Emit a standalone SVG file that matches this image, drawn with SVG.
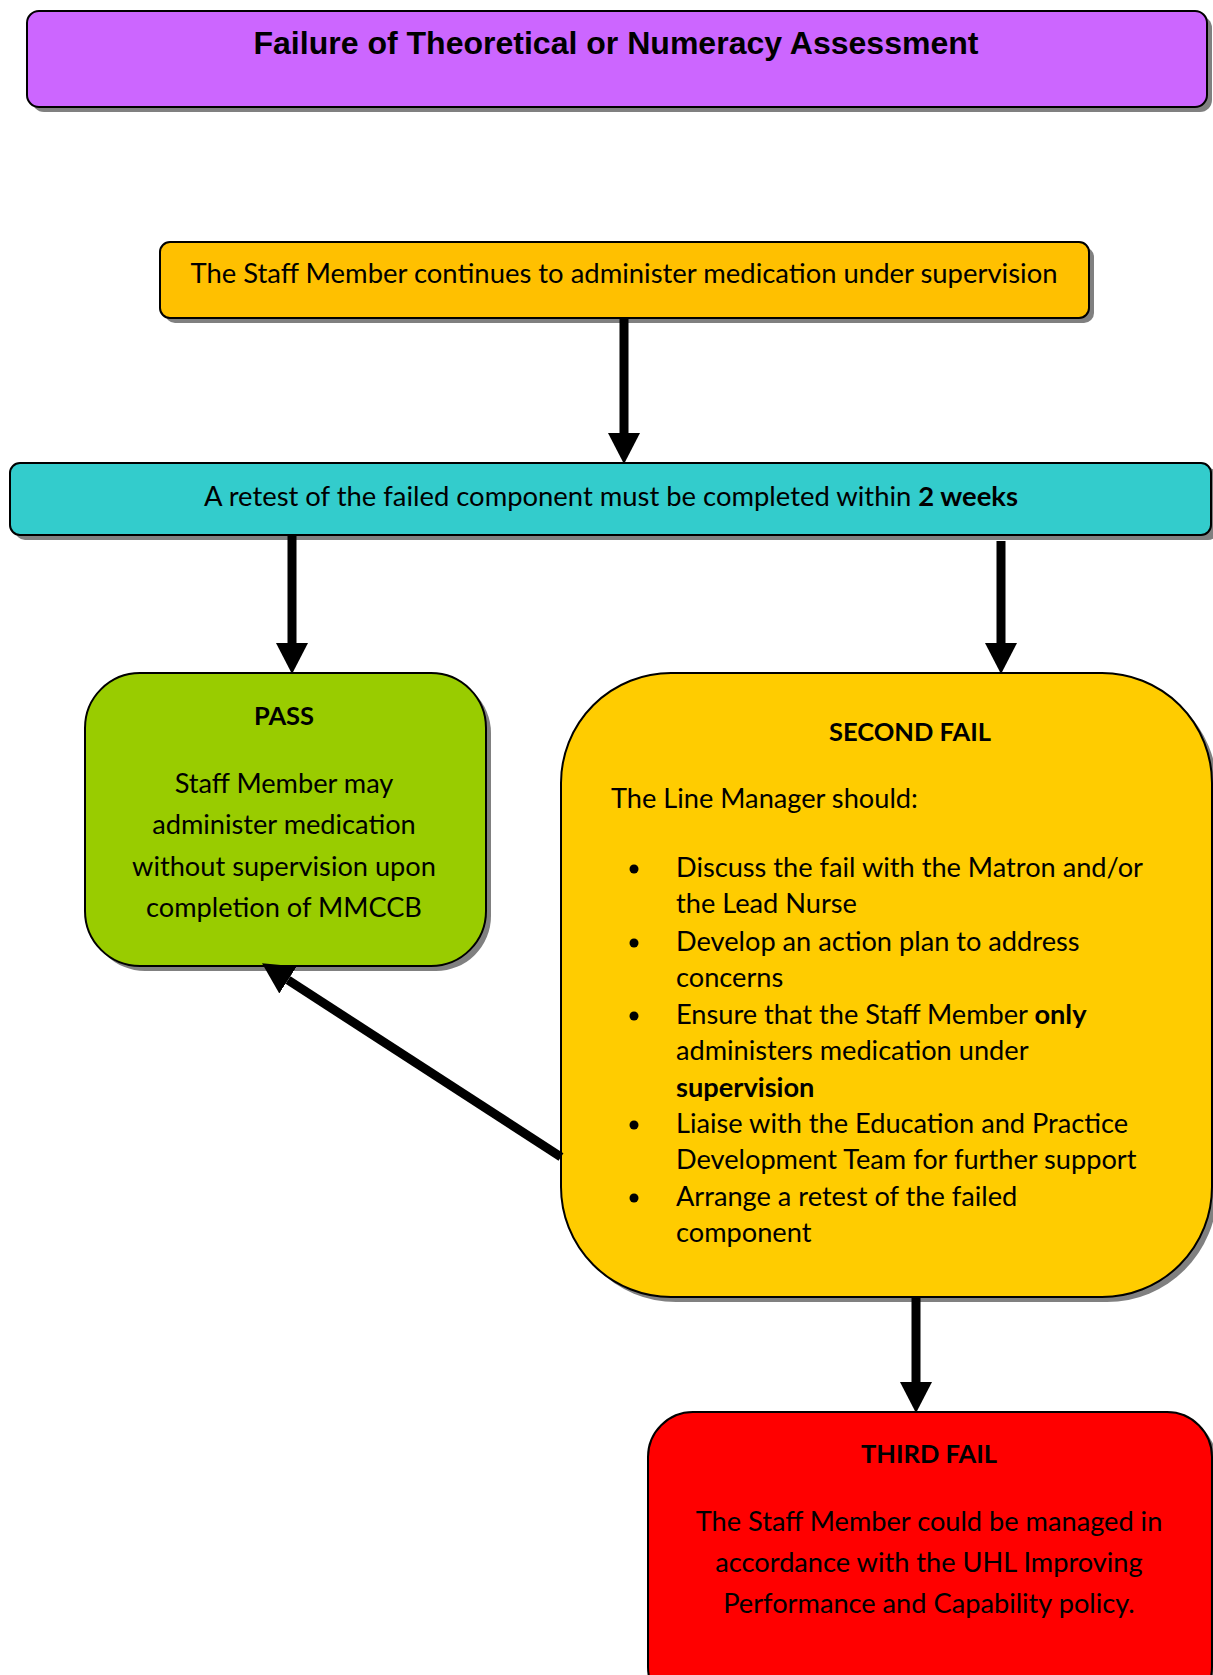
<svg xmlns="http://www.w3.org/2000/svg" width="1213" height="1675" viewBox="0 0 1213 1675">
  <style>
    .shadow { fill: #808080; }
    .box { stroke: #000; stroke-width: 2; }
    .title { font-family: "Liberation Sans", Arial, sans-serif; font-weight: bold; font-size: 31px; fill: #000; }
    .t { font-family: Lato, "Liberation Sans", sans-serif; font-size: 27.2px; fill: #000; }
    .h { font-family: Lato, "Liberation Sans", sans-serif; font-size: 25.5px; font-weight: bold; fill: #000; }
    .b { font-weight: bold; }
    .mid { text-anchor: middle; }
    .conn { stroke: #000; stroke-width: 9; fill: none; }
  </style>
  <defs>
    <marker id="head" markerUnits="userSpaceOnUse" markerWidth="32" markerHeight="34" refX="0" refY="17" orient="auto" viewBox="0 0 32 34">
      <path d="M0,1 L31,17 L0,33 Z" fill="#000"/>
    </marker>
  </defs>

  <rect width="1213" height="1675" fill="#fff"/>

  <!-- Title -->
  <g id="title">
    <rect class="shadow" x="32" y="16" width="1180" height="96" rx="12"/>
    <rect class="box" x="27" y="11" width="1180" height="96" rx="12" fill="#CC66FF"/>
    <text class="title mid" x="616" y="54" textLength="725" lengthAdjust="spacingAndGlyphs">Failure of Theoretical or Numeracy Assessment</text>
  </g>

  <!-- Supervised administration -->
  <g id="supervised">
    <rect class="shadow" x="165" y="247" width="929" height="76" rx="10"/>
    <rect class="box" x="160" y="242" width="929" height="76" rx="10" fill="#FFC000"/>
    <text class="t mid" x="624" y="283" textLength="867" lengthAdjust="spacingAndGlyphs">The Staff Member continues to administer medication under supervision</text>
  </g>

  <!-- Retest -->
  <g id="retest">
    <rect class="shadow" x="15" y="468" width="1203" height="72" rx="10"/>
    <rect class="box" x="10" y="463" width="1201" height="72" rx="10" fill="#33CCCC"/>
    <text class="t mid" x="611" y="506" textLength="814" lengthAdjust="spacingAndGlyphs">A retest of the failed component must be completed within <tspan class="b">2 weeks</tspan></text>
  </g>

  <!-- Pass -->
  <g id="pass">
    <rect class="shadow" x="90" y="678" width="401" height="293" rx="55"/>
    <rect class="box" x="85" y="673" width="401" height="293" rx="55" fill="#99CC00"/>
    <text class="h mid" x="284" y="725">PASS</text>
    <text class="t mid" x="284" y="793">Staff Member may</text>
    <text class="t mid" x="284" y="834">administer medication</text>
    <text class="t mid" x="284" y="876">without supervision upon</text>
    <text class="t mid" x="284" y="917">completion of MMCCB</text>
  </g>

  <!-- Second fail -->
  <g id="second-fail">
    <rect class="shadow" x="566" y="678" width="651" height="624" rx="110"/>
    <rect class="box" x="561" y="673" width="651" height="624" rx="110" fill="#FFCC00"/>
    <text class="h mid" x="910" y="741">SECOND FAIL</text>
    <text class="t" x="611" y="808">The Line Manager should:</text>
    <g fill="#000">
      <circle cx="634" cy="869" r="4.5"/>
      <circle cx="634" cy="943" r="4.5"/>
      <circle cx="634" cy="1016" r="4.5"/>
      <circle cx="634" cy="1125" r="4.5"/>
      <circle cx="634" cy="1198" r="4.5"/>
    </g>
    <text class="t" x="676" y="877">Discuss the fail with the Matron and/or</text>
    <text class="t" x="676" y="913">the Lead Nurse</text>
    <text class="t" x="676" y="951">Develop an action plan to address</text>
    <text class="t" x="676" y="987">concerns</text>
    <text class="t" x="676" y="1024">Ensure that the Staff Member <tspan class="b">only</tspan></text>
    <text class="t" x="676" y="1060">administers medication under</text>
    <text class="t b" x="676" y="1097">supervision</text>
    <text class="t" x="676" y="1133">Liaise with the Education and Practice</text>
    <text class="t" x="676" y="1169">Development Team for further support</text>
    <text class="t" x="676" y="1206">Arrange a retest of the failed</text>
    <text class="t" x="676" y="1242">component</text>
  </g>

  <!-- Third fail -->
  <g id="third-fail">
    <rect class="shadow" x="653" y="1417" width="564" height="300" rx="45"/>
    <rect class="box" x="648" y="1412" width="564" height="300" rx="45" fill="#FF0000"/>
    <text class="h mid" x="929" y="1463">THIRD FAIL</text>
    <text class="t mid" x="929" y="1531">The Staff Member could be managed in</text>
    <text class="t mid" x="929" y="1572">accordance with the UHL Improving</text>
    <text class="t mid" x="929" y="1613">Performance and Capability policy.</text>
  </g>

  <!-- Connectors -->
  <g id="connectors">
    <line class="conn" x1="624" y1="318" x2="624" y2="433" marker-end="url(#head)"/>
    <line class="conn" x1="292" y1="535" x2="292" y2="643" marker-end="url(#head)"/>
    <line class="conn" x1="1001" y1="541" x2="1001" y2="643" marker-end="url(#head)"/>
    <line class="conn" x1="916" y1="1297" x2="916" y2="1382" marker-end="url(#head)"/>
    <line class="conn" x1="561" y1="1157" x2="288" y2="980" marker-end="url(#head)"/>
  </g>
</svg>
